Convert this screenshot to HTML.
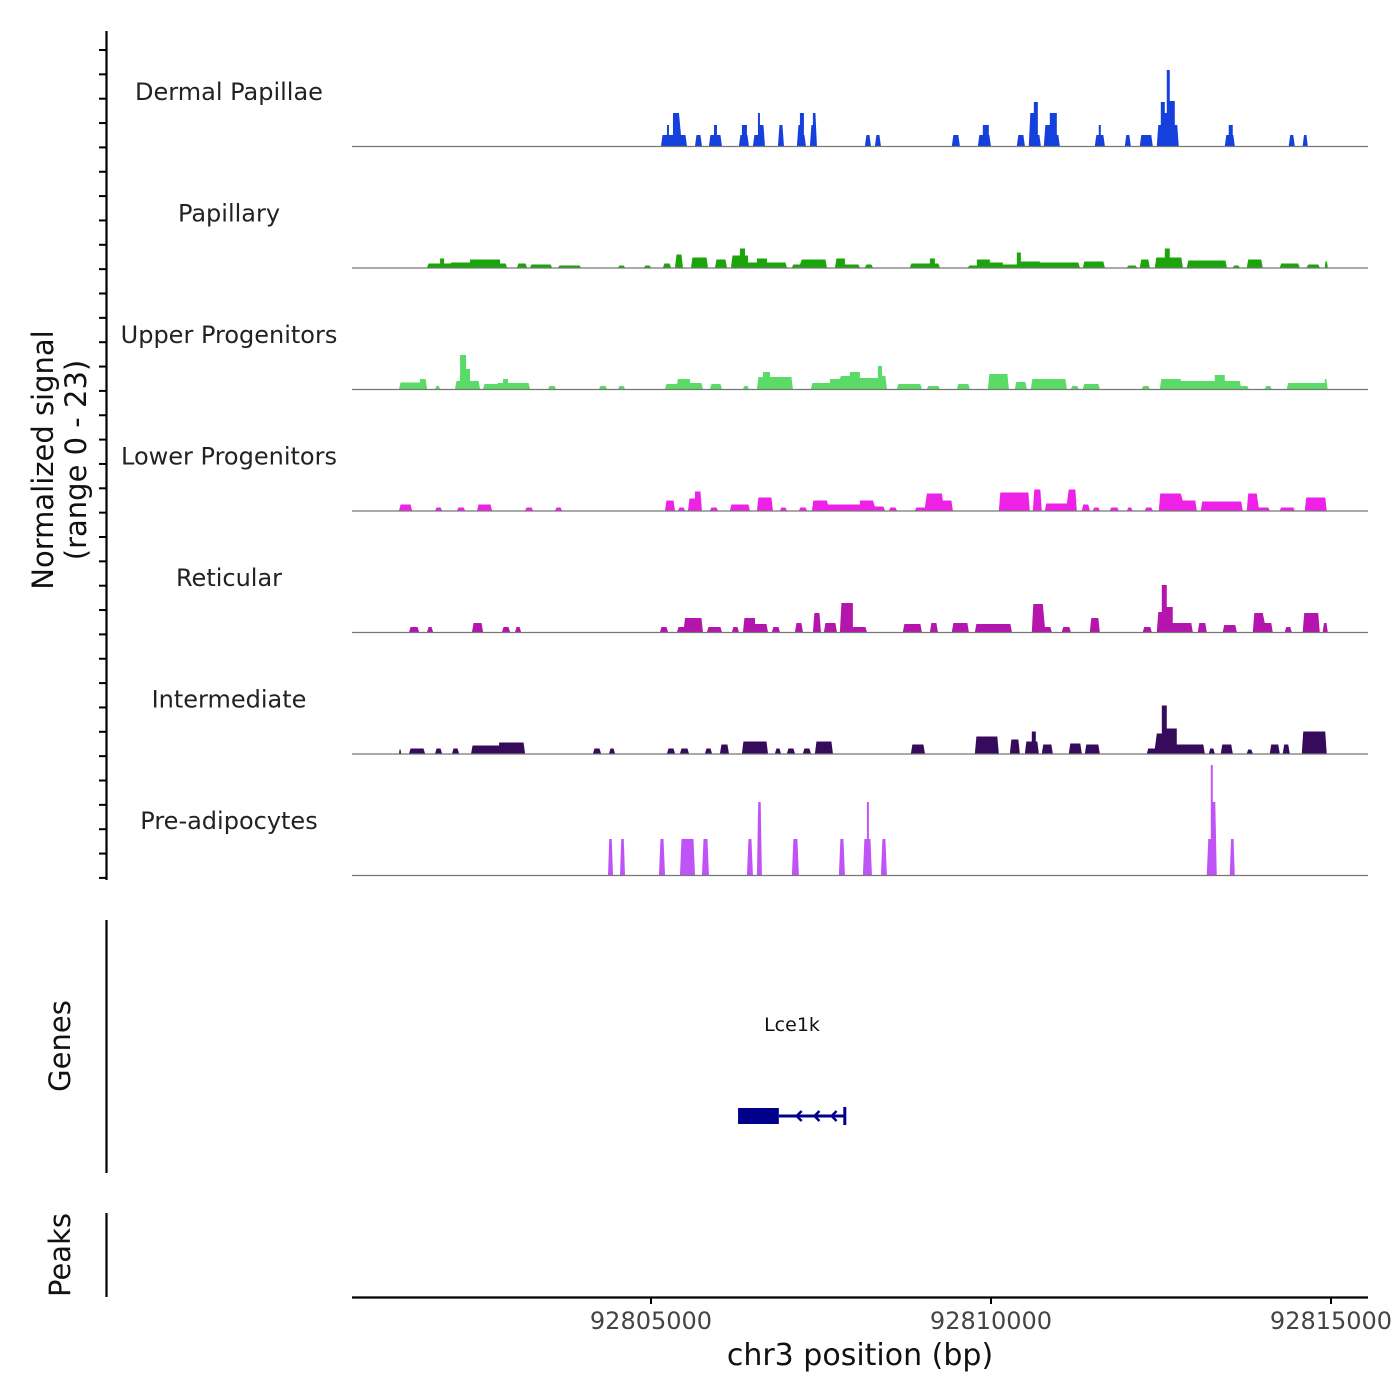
<!DOCTYPE html>
<html><head><meta charset="utf-8"><style>
body{margin:0;background:#fff}
svg{display:block;font-family:"DejaVu Sans","Liberation Sans",sans-serif}
</style></head><body>
<svg id="chart" width="1400" height="1400" viewBox="0 0 1400 1400">
<g id="tracks"></g>
<g>
<line x1="106.5" y1="31" x2="106.5" y2="880" stroke="#000" stroke-width="2.2"/>
<g id="yticks"></g>
<text transform="translate(53,460) rotate(-90)" text-anchor="middle" font-size="29" fill="#111">Normalized signal</text>
<text transform="translate(86,460) rotate(-90)" text-anchor="middle" font-size="29" fill="#111">(range 0 - 23)</text>
</g>
<g>
<line x1="106.5" y1="920" x2="106.5" y2="1173" stroke="#000" stroke-width="2.2"/>
<text transform="translate(70,1046) rotate(-90)" text-anchor="middle" font-size="29" fill="#111">Genes</text>
<text x="792" y="1031" text-anchor="middle" font-size="19" fill="#111">Lce1k</text>
<g id="gene"></g>
</g>
<g>
<line x1="106.5" y1="1213" x2="106.5" y2="1297" stroke="#000" stroke-width="2.2"/>
<text transform="translate(70,1255) rotate(-90)" text-anchor="middle" font-size="29" fill="#111">Peaks</text>
</g>
<g>
<line x1="352" y1="1297.5" x2="1368" y2="1297.5" stroke="#000" stroke-width="2.2"/>
<g id="xticks"></g>
<text x="860" y="1365" text-anchor="middle" font-size="30" fill="#111">chr3 position (bp)</text>
</g>
</svg>
<script>
const chromStart = 92800000;
const regionStart = 92800603;
const regionEnd = 92815544;
const xTicks = [92805000, 92810000, 92815000];
const xTickLabels = ["92805000", "92810000", "92815000"];
const trackNames = ["Dermal Papillae","Papillary","Upper Progenitors","Lower Progenitors","Reticular","Intermediate","Pre-adipocytes"];
const trackColors = ["#1540dc","#1aa60a","#5ada66","#ee22e6","#b415ac","#360b5c","#c053f5"];
const yMax = 23;
// segments: [startOffset, endOffset, value], offsets relative to chromStart
const dermalPapillae = [[5147,5235,2.2],[5235,5264,4.2],[5264,5323,2.2],[5323,5411,6.6],[5441,5529,2.2],[5647,5749,2.2],[5852,5926,2.2],[5926,5970,4.2],[5970,6043,2.2],[6293,6337,2.2],[6337,6411,4.2],[6411,6440,2.2],[6499,6573,2.2],[6573,6602,6.6],[6602,6676,4.2],[6867,6955,4.2],[7146,7190,4.2],[7190,7249,6.6],[7249,7278,2.2],[7337,7381,4.2],[7381,7440,6.6],[8146,8234,2.2],[8293,8381,2.2],[9424,9542,2.2],[9807,9880,2.2],[9880,9968,4.2],[9968,9998,2.2],[10380,10498,2.2],[10556,10630,6.6],[10630,10689,8.8],[10689,10733,2.2],[10777,10865,4.2],[10865,10968,6.6],[10968,11012,2.2],[11527,11585,2.2],[11585,11615,4.2],[11615,11674,2.2],[11968,12056,2.2],[12188,12379,2.2],[12438,12497,4.2],[12497,12556,8.8],[12556,12585,6.6],[12585,12629,15.2],[12629,12703,9],[12703,12761,4.2],[13438,13496,2.2],[13496,13555,4.2],[13555,13585,2.2],[14378,14467,2.2],[14584,14658,2.2]];
const papillary = [[1707,1898,0.8],[1898,1957,1.8],[1957,2045,0.8],[2074,2339,1.0],[2339,2780,1.6],[2780,2883,0.8],[3030,3177,0.8],[3221,3544,0.6],[3633,3971,0.4],[4515,4618,0.4],[4897,5000,0.4],[5176,5294,0.8],[5353,5470,2.6],[5588,5838,2.0],[5941,6117,1.6],[6176,6308,2.4],[6308,6382,3.8],[6382,6426,2.4],[6426,6558,1.0],[6558,6705,1.8],[6705,6999,1.0],[7072,7190,0.6],[7219,7587,1.6],[7705,7852,1.8],[7852,8072,0.6],[8146,8263,0.6],[8807,9101,0.8],[9101,9175,1.8],[9175,9248,0.8],[9660,9792,0.4],[9792,9983,1.6],[9983,10174,1.0],[10174,10380,0.6],[10380,10439,3.0],[10439,10718,1.2],[10718,11306,1.0],[11350,11674,1.2],[11999,12146,0.4],[12188,12335,1.6],[12409,12556,2.0],[12556,12629,3.8],[12629,12821,2.0],[12879,13469,1.4],[13555,13658,0.4],[13761,13996,1.6],[14246,14540,0.8],[14643,14834,0.6],[14908,14952,1.2]];
const upperProgenitors = [[1295,1604,1.3],[1604,1707,2.0],[1825,1898,0.6],[2118,2192,1.6],[2192,2280,6.8],[2280,2339,4.0],[2339,2486,1.6],[2530,2736,1.0],[2751,2824,1.2],[2824,2898,2.0],[2898,3221,1.2],[3486,3603,0.6],[4235,4353,0.6],[4515,4618,0.6],[5206,5382,1.0],[5397,5573,2.0],[5573,5764,1.2],[5867,6043,1.0],[6352,6440,0.6],[6558,6646,2.4],[6646,6749,3.4],[6749,7087,2.4],[7352,7631,1.2],[7631,7778,2.0],[7793,7925,2.6],[7925,8072,3.4],[8072,8337,2.2],[8337,8396,4.6],[8396,8469,2.6],[8616,8983,1.0],[9057,9248,0.6],[9498,9689,1.0],[9954,10263,3.0],[10351,10527,1.4],[10586,11115,2.0],[11174,11291,0.6],[11350,11600,1.0],[12217,12335,0.6],[12482,12791,2.0],[12791,13291,1.6],[13291,13438,2.8],[13438,13658,1.6],[13673,13790,0.6],[14026,14128,0.6],[14349,14687,1.2],[14687,14908,1.2],[14908,14952,2.0]];
const lowerProgenitors = [[1295,1486,1.2],[1825,1927,0.6],[2148,2266,0.6],[2442,2662,1.2],[3148,3265,0.6],[3589,3691,0.6],[5206,5353,2.0],[5397,5500,0.6],[5544,5647,2.4],[5647,5749,3.8],[5867,5985,0.6],[6161,6308,1.2],[6337,6455,1.2],[6558,6793,2.6],[6896,6999,0.6],[7175,7293,0.6],[7366,7587,2.0],[7602,8072,1.2],[8072,8263,2.0],[8293,8440,0.8],[8499,8616,0.6],[8881,9028,0.6],[9057,9277,3.4],[9292,9439,2.0],[10115,10571,3.6],[10615,10747,4.2],[10792,11115,1.4],[11144,11262,4.2],[11335,11453,1.2],[11497,11600,0.6],[11747,11879,0.6],[11999,12081,0.6],[12262,12379,0.6],[12467,12791,3.4],[12820,13026,2.0],[13085,13702,1.8],[13761,13908,3.4],[13937,14099,0.6],[14246,14467,0.6],[14614,14937,2.6]];
const reticular = [[1442,1589,1.0],[1707,1795,1.0],[2368,2530,1.8],[2809,2927,1.0],[3001,3089,1.0],[5132,5250,1.0],[5382,5485,1.0],[5500,5764,2.8],[5823,6043,1.0],[6190,6293,1.0],[6352,6529,2.8],[6529,6720,1.6],[6778,6896,1.0],[7117,7234,1.8],[7381,7499,3.8],[7543,7734,1.8],[7778,7969,5.8],[7969,8175,1.0],[8704,8983,1.6],[9101,9219,1.8],[9424,9674,1.8],[9763,10307,1.6],[10600,10762,5.6],[10792,10894,1.0],[11041,11174,1.0],[11453,11600,2.8],[12232,12364,1.0],[12438,12512,4.0],[12512,12585,9.4],[12585,12673,5.0],[12673,12967,1.8],[13041,13173,1.8],[13408,13614,1.4],[13850,13996,3.8],[14026,14143,1.8],[14320,14422,1.0],[14584,14834,3.8],[14878,14952,1.8]];
const intermediate = [[1295,1325,0.8],[1442,1677,1.0],[1825,1927,1.0],[2074,2177,1.0],[2354,2766,1.6],[2766,3148,2.2],[4147,4265,1.0],[4383,4471,1.0],[5235,5353,1.0],[5426,5558,1.0],[5794,5897,1.0],[6014,6146,1.8],[6337,6720,2.4],[6823,6911,1.0],[6999,7117,1.0],[7234,7352,1.0],[7411,7675,2.4],[8822,9028,1.8],[9763,10115,3.4],[10277,10424,2.8],[10498,10600,2.4],[10600,10659,4.4],[10659,10703,2.4],[10747,10909,1.8],[11144,11335,2.0],[11380,11600,1.8],[12291,12409,1.0],[12438,12512,4.0],[12512,12585,9.6],[12585,12732,5.0],[12732,13144,1.8],[13203,13291,1.0],[13379,13555,1.8],[13761,13849,0.8],[14099,14246,1.8],[14290,14393,1.8],[14570,14937,4.4]];
const preAdipocytes = [[4368,4441,7.2],[4544,4618,7.2],[5117,5206,7.2],[5426,5647,7.2],[5750,5852,7.2],[6411,6499,7.2],[6558,6631,14.6],[7072,7175,7.2],[7763,7852,7.2],[8116,8175,7.2],[8175,8204,14.6],[8204,8249,7.2],[8381,8469,7.2],[13173,13232,7.2],[13232,13261,22],[13261,13320,14.6],[13511,13585,7.2]];
const trackData = [dermalPapillae,papillary,upperProgenitors,lowerProgenitors,reticular,intermediate,preAdipocytes];
const geneStart = 92806280, geneEnd = 92807850, cdsEnd = 92806880;

const NS="http://www.w3.org/2000/svg";
const plotL=352, plotR=1368;
function xScale(bp){return plotL+(bp-regionStart)/(regionEnd-regionStart)*(plotR-plotL);}
const baseY0=146, trackStep=121.5, pxPerUnit=5;
function yScale(i,v){return baseY0+i*trackStep - v*pxPerUnit;}
function mk(tag,attrs,parent){const e=document.createElementNS(NS,tag);for(const k in attrs)e.setAttribute(k,attrs[k]);parent.appendChild(e);return e;}

const tg=document.getElementById('tracks');
trackNames.forEach((name,i)=>{
  const g=mk('g',{},tg);
  
  
  const base=yScale(i,0);
  const runs=[];
  trackData[i].forEach(s=>{
    const last=runs[runs.length-1];
    if(last && s[0]-last[last.length-1][1]<40) last.push(s); else runs.push([s]);
  });
  runs.forEach(run=>{
    const pts=[];
    const rx1=xScale(chromStart+run[0][0]), rx2=xScale(chromStart+run[run.length-1][1]);
    const sl=Math.min(1.5,(rx2-rx1)/4);
    pts.push([rx1,base]);
    run.forEach((s,k)=>{
      let x1=xScale(chromStart+s[0]), x2=xScale(chromStart+s[1]);
      if(k===0) x1+=sl;
      if(k===run.length-1) x2-=sl;
      const y=yScale(i,s[2]);
      pts.push([x1,y]); pts.push([x2,y]);
    });
    pts.push([rx2,base]);
    const p=mk('polygon',{points:pts.map(q=>q[0].toFixed(2)+','+q[1].toFixed(2)).join(' '),fill:trackColors[i]},g);
    
    
  });
  const bl=mk('line',{x1:plotL,x2:plotR,y1:base+0.5,y2:base+0.5,stroke:'#777','stroke-width':1.2},g);
  
  
  const t=mk('text',{x:229,y:base-46,'text-anchor':'middle','font-size':24,fill:'#222'},g);
  t.textContent=name;
  
  
});
const yt=document.getElementById('yticks');
for(let k=0;k<35;k++){const y=50+k*24.35;
  const l=mk('line',{x1:99,x2:106,y1:y,y2:y,stroke:'#000','stroke-width':2},yt);
  
  }
const xt=document.getElementById('xticks');
xTicks.forEach((v,k)=>{const x=xScale(v);
  const l=mk('line',{x1:x,x2:x,y1:1297,y2:1304,stroke:'#000','stroke-width':2},xt);
  
  
  const t=mk('text',{x:x,y:1329,'text-anchor':'middle','font-size':24,fill:'#444'},xt);
  t.textContent=xTickLabels[k];
  
  });
const gg=document.getElementById('gene'), gc='#00008b';
const gs=xScale(geneStart), ge=xScale(geneEnd), ce=xScale(cdsEnd);
mk('rect',{x:gs,y:1108,width:ce-gs,height:16,fill:gc},gg);
mk('line',{x1:ce,x2:ge,y1:1116,y2:1116,stroke:gc,'stroke-width':3},gg);
mk('line',{x1:ge,x2:ge,y1:1107,y2:1125,stroke:gc,'stroke-width':3},gg);
[0.27,0.54,0.8].forEach(f=>{const ax=ce+(ge-ce)*f;
  mk('polyline',{points:`${ax+5},${1111} ${ax},${1116} ${ax+5},${1121}`,fill:'none',stroke:gc,'stroke-width':2.5},gg);});
</script>
</body></html>
